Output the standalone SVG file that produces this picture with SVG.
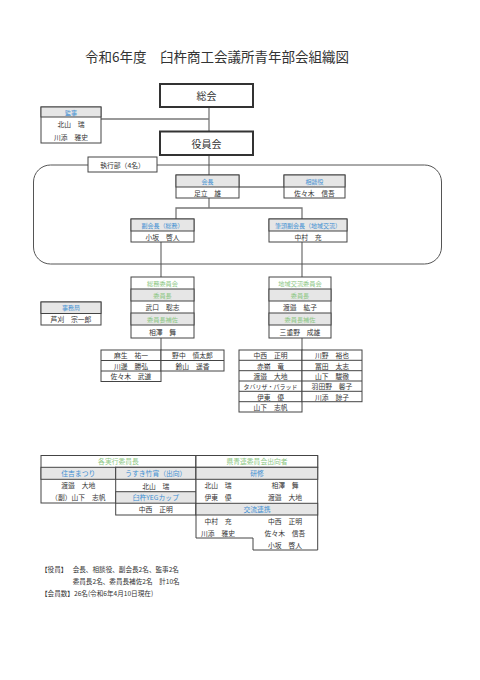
<svg xmlns="http://www.w3.org/2000/svg" width="480" height="680" viewBox="0 0 480 680">
<style>
text{font-family:"Noto Sans CJK JP","Noto Sans",sans-serif;dominant-baseline:central;text-anchor:middle;fill:#333}
.title{font-size:13.5px;text-anchor:start}
.big{font-size:10px}
.s{font-size:6.8px}
.h{font-size:6px;fill:#3f8fd2}
.hb{font-size:6.8px;fill:#3f8fd2}
.g{font-size:6.2px;fill:#8cc784}
.gb{font-size:6.8px;fill:#8cc784}
.n{font-size:6.6px;text-anchor:start}
.box{fill:#fff;stroke:#444;stroke-width:1}
.main{fill:#fff;stroke:#333;stroke-width:2}
.hd{fill:#e6e6e6;stroke:#444;stroke-width:1}
.ln{stroke:#444;stroke-width:1;fill:none}
.cn{stroke:#777;stroke-width:1.3;fill:none}
</style>
<rect width="480" height="680" fill="#fff"/>
<text class="title" x="85" y="56">令和6年度　臼杵商工会議所青年部会組織図</text>

<g id="connectors">
<line class="cn" x1="209" y1="107" x2="209" y2="175"/>
<line class="cn" x1="101" y1="119" x2="209" y2="119"/>
<line class="cn" x1="239" y1="187" x2="284" y2="187"/>
<line class="cn" x1="209" y1="198" x2="209" y2="208"/>
<polyline class="cn" points="176,219 176,208 302,208 302,219"/>
<line class="cn" x1="161" y1="242" x2="161" y2="277"/>
<line class="cn" x1="302" y1="242" x2="302" y2="277"/>
<line class="cn" x1="161" y1="338" x2="161" y2="350"/>
<line class="cn" x1="302" y1="338" x2="302" y2="350"/>
</g>

<g id="executive-frame">
<rect x="33.5" y="165" width="408" height="99" rx="17" fill="none" stroke="#555" stroke-width="1"/>
</g>
<g id="shikkoubu">
<rect class="box" x="88" y="157" width="69" height="15"/>
<text class="s" x="122.5" y="164.5">執行部（4名）</text>
</g>

<g id="soukai">
<rect class="main" x="160" y="84" width="93" height="23"/>
<text class="big" x="206.5" y="95.5">総会</text>
</g>
<g id="yakuinkai">
<rect class="main" x="160" y="131.5" width="93" height="23.5"/>
<text class="big" x="206.5" y="143">役員会</text>
</g>

<g id="kanji">
<rect class="box" x="41" y="107" width="60" height="36"/>
<rect class="hd" x="41" y="107" width="60" height="10"/>
<text class="h" x="71" y="112">監事</text>
<text class="s" x="71" y="124">北山　瑞</text>
<text class="s" x="71" y="136.5">川添　雅史</text>
</g>

<g id="kaicho">
<rect class="box" x="176" y="175" width="63" height="23"/>
<rect class="hd" x="176" y="175" width="63" height="12"/>
<text class="h" x="207.5" y="181">会長</text>
<text class="s" x="207.5" y="192.5">足立　雄</text>
</g>
<g id="soudanyaku">
<rect class="box" x="284" y="175" width="61" height="23"/>
<rect class="hd" x="284" y="175" width="61" height="12"/>
<text class="h" x="314.5" y="181">相談役</text>
<text class="s" x="314.5" y="192.5">佐々木　信吾</text>
</g>

<g id="fukukaicho-soumu">
<rect class="box" x="131" y="219" width="63" height="23"/>
<rect class="hd" x="131" y="219" width="63" height="12"/>
<text class="h" x="162.5" y="225">副会長（総務）</text>
<text class="s" x="162.5" y="236.5">小坂　啓人</text>
</g>
<g id="fukukaicho-chiiki">
<rect class="box" x="269" y="219" width="78" height="23"/>
<rect class="hd" x="269" y="219" width="78" height="12"/>
<text class="h" x="308" y="225">筆頭副会長（地域交流）</text>
<text class="s" x="308" y="236.5">中村　充</text>
</g>

<g id="jimukyoku">
<rect class="box" x="41" y="302" width="60" height="23"/>
<rect class="hd" x="41" y="302" width="60" height="11.5"/>
<text class="h" x="71" y="307.8">事務局</text>
<text class="s" x="71" y="319.3">芦刈　宗一郎</text>
</g>

<g id="soumu-iinkai">
<rect class="box" x="131" y="277" width="63" height="61"/>
<rect class="hd" x="131" y="289" width="63" height="12"/>
<rect class="hd" x="131" y="313" width="63" height="12"/>
<text class="g" x="162.5" y="283">総務委員会</text>
<text class="g" x="162.5" y="295">委員長</text>
<text class="s" x="162.5" y="307">武口　聡志</text>
<text class="g" x="162.5" y="319">委員長補佐</text>
<text class="s" x="162.5" y="331.5">相澤　舞</text>
</g>

<g id="chiiki-iinkai">
<rect class="box" x="269" y="277" width="62" height="61"/>
<rect class="hd" x="269" y="289" width="62" height="12"/>
<rect class="hd" x="269" y="313" width="62" height="12"/>
<text class="g" x="300" y="283">地域交流委員会</text>
<text class="g" x="300" y="295">委員長</text>
<text class="s" x="300" y="307">渡邉　紘子</text>
<text class="g" x="300" y="319">委員長補佐</text>
<text class="s" x="300" y="331.5">三重野　成雄</text>
</g>

<g id="soumu-members">
<rect class="box" x="101" y="350" width="60" height="31.5"/>
<rect class="box" x="161" y="350" width="63" height="21"/>
<line class="ln" x1="101" y1="360.5" x2="224" y2="360.5"/>
<line class="ln" x1="101" y1="371" x2="161" y2="371"/>
<text class="s" x="131" y="355.3">麻生　祐一</text>
<text class="s" x="131" y="365.8">川邊　勝弘</text>
<text class="s" x="131" y="376.3">佐々木　武道</text>
<text class="s" x="192.5" y="355.3">野中　慎太郎</text>
<text class="s" x="192.5" y="365.8">鈴山　遥香</text>
</g>

<g id="chiiki-members">
<rect class="box" x="239" y="350" width="63" height="62"/>
<rect class="box" x="302" y="350" width="60" height="51.7"/>
<line class="ln" x1="239" y1="360.3" x2="362" y2="360.3"/>
<line class="ln" x1="239" y1="370.7" x2="362" y2="370.7"/>
<line class="ln" x1="239" y1="381" x2="362" y2="381"/>
<line class="ln" x1="239" y1="391.3" x2="362" y2="391.3"/>
<line class="ln" x1="239" y1="401.7" x2="302" y2="401.7"/>
<text class="s" x="270.5" y="355.2">中西　正明</text>
<text class="s" x="270.5" y="365.5">赤嶺　竜</text>
<text class="s" x="270.5" y="375.8">渡邉　大地</text>
<text class="s" x="270.5" y="386.2" style="font-size:6px">タバリザ・パラッド</text>
<text class="s" x="270.5" y="396.5">伊東　優</text>
<text class="s" x="270.5" y="406.8">山下　志帆</text>
<text class="s" x="332" y="355.2">川野　裕也</text>
<text class="s" x="332" y="365.5">冨田　太志</text>
<text class="s" x="332" y="375.8">山下　駿徹</text>
<text class="s" x="332" y="386.2">羽田野　馨子</text>
<text class="s" x="332" y="396.5">川添　諒子</text>
</g>

<g id="jikkou-iinchou">
<rect class="box" x="41" y="455.5" width="155" height="47.5"/>
<rect class="hd" x="41" y="467.3" width="74.7" height="12"/>
<rect class="box" x="115.7" y="467.3" width="80.3" height="47.7"/>
<rect class="hd" x="115.7" y="467.3" width="80.3" height="12"/>
<rect class="hd" x="115.7" y="491.7" width="80.3" height="11.5"/>
<text class="gb" x="118.5" y="461.4">各実行委員長</text>
<text class="hb" x="78.3" y="473.3">住吉まつり</text>
<text class="hb" x="155.8" y="473.3">うすき竹宵（出向）</text>
<text class="s" x="78.3" y="485.2">渡邉　大地</text>
<text class="s" x="78.3" y="496.5">（副）山下　志帆</text>
<text class="s" x="155.8" y="485.5">北山　瑞</text>
<text class="hb" x="155.8" y="497.4">臼杵YEGカップ</text>
<text class="s" x="155.8" y="509">中西　正明</text>
</g>

<g id="kenseiren">
<polygon class="box" points="196,455.5 317.7,455.5 317.7,550 253,550 253,538 196,538"/>
<rect class="box" x="196" y="455.5" width="121.7" height="11.8"/>
<rect class="hd" x="196" y="467.3" width="121.7" height="12"/>
<rect class="hd" x="196" y="503.3" width="121.7" height="11.7"/>
<text class="gb" x="257" y="461.4">県青連委員会出向者</text>
<text class="hb" x="257" y="473.3">研修</text>
<text class="s" x="218" y="485.2">北山　瑞</text>
<text class="s" x="285" y="485.2">相澤　舞</text>
<text class="s" x="218" y="496.7">伊東　優</text>
<text class="s" x="285" y="496.7">渡邉　大地</text>
<text class="hb" x="257" y="509.1">交流連携</text>
<text class="s" x="218" y="521">中村　充</text>
<text class="s" x="285" y="521">中西　正明</text>
<text class="s" x="218" y="532.7">川添　雅史</text>
<text class="s" x="285" y="532.7">佐々木　信吾</text>
<text class="s" x="285" y="544.5">小坂　啓人</text>
</g>

<g id="notes">
<text class="n" x="41" y="569">【役員】</text>
<text class="n" x="72.7" y="569">会長、相談役、副会長2名、監事2名</text>
<text class="n" x="72.7" y="580.5">委員長2名、委員長補佐2名　計10名</text>
<text class="n" x="41" y="592.7">【会員数】26名(令和6年4月10日現在)</text>
</g>
</svg>
